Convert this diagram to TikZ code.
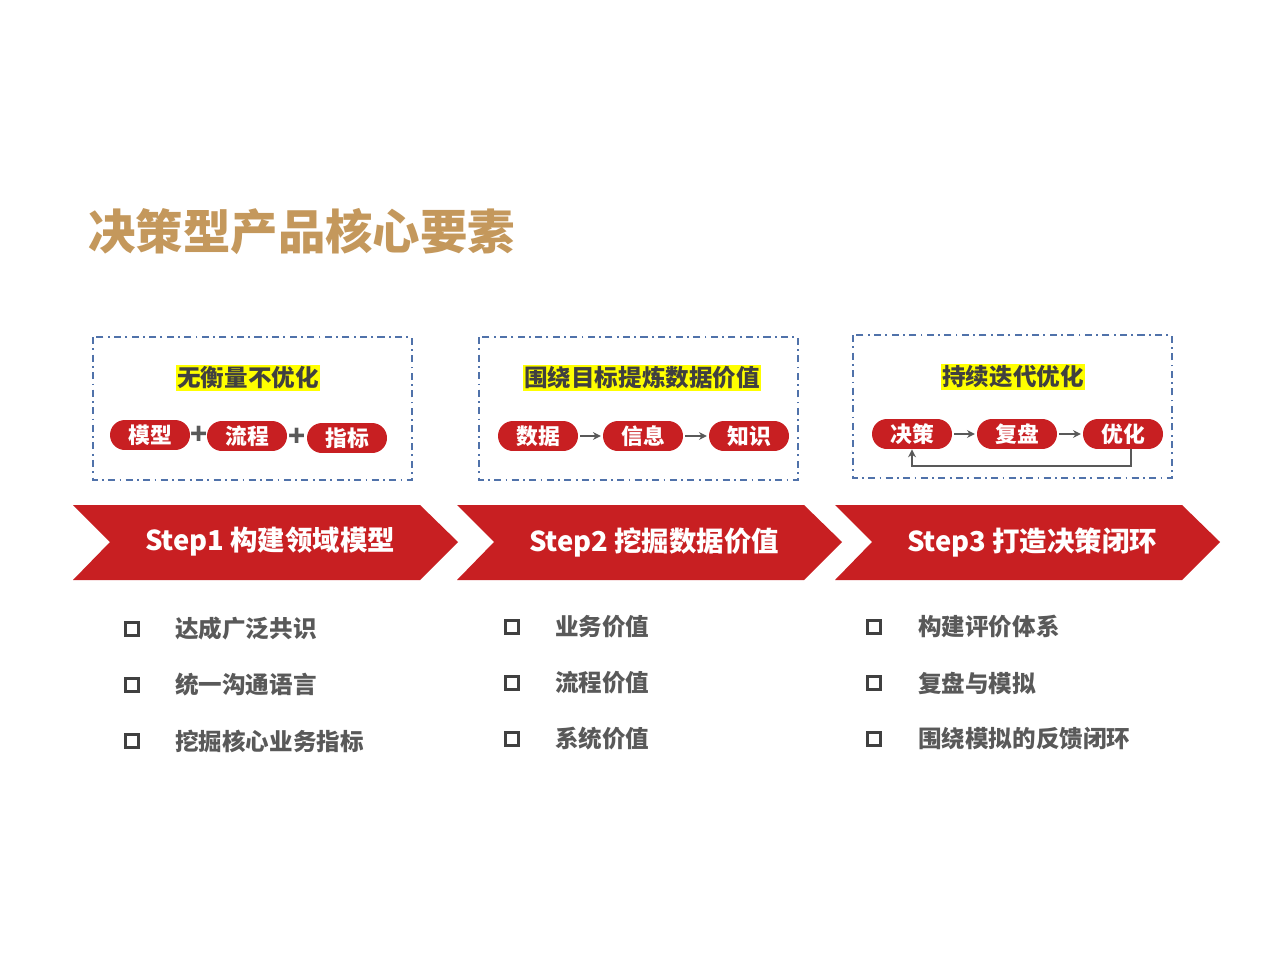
\documentclass[tikz,border=0pt]{standalone}
\usepackage{fontspec}
\setmainfont{Noto Sans CJK SC}
\usetikzlibrary{positioning,arrows.meta}
\definecolor{titlegold}{HTML}{C4985C}
\definecolor{stepred}{HTML}{C81F22}
\definecolor{frameblue}{HTML}{5072AA}
\definecolor{textgray}{HTML}{595959}
\definecolor{hiyellow}{HTML}{FFFF00}
\tikzset{
  pill/.style={fill=stepred, text=white, rounded corners=8.5pt, minimum width=1.6cm,
    minimum height=0.6cm, inner sep=0pt, font=\fontsize{12.4}{12}\selectfont\bfseries},
  hilite/.style={fill=hiyellow, text=black!75, inner sep=1pt, font=\fontsize{13.4}{14}\selectfont\bfseries},
  frame/.style={frameblue, line width=1pt, dash pattern=on 4pt off 2.5pt on 1pt off 2.5pt},
  steptext/.style={text=white, font=\fontsize{15.6}{16}\selectfont\bfseries},
  flowarrow/.style={textgray, line width=1pt, -{Stealth[length=4.5pt,width=4.5pt]}},
  plussign/.style={text=textgray, font=\fontsize{16}{16}\selectfont\bfseries, inner sep=0pt},
  tick/.style={draw=black!75, line width=1.5pt, minimum size=0.27cm, inner sep=0pt},
  itemtext/.style={text=textgray, anchor=west, inner sep=0pt, font=\fontsize{13.4}{14}\selectfont\bfseries}
}
\begin{document}
\begin{tikzpicture}[x=0.02cm,y=-0.02cm]
    \useasboundingbox[fill=white] (0,0) rectangle (1280,959);
    % title
    \node[anchor=west, inner sep=0pt, text=titlegold, font=\fontsize{27}{28}\selectfont\bfseries]
        (title) at (88,232) {决策型产品核心要素};
    % dashed frames
    \draw[frame] (93,337) rectangle (412,480);
    \draw[frame] (479,337) rectangle (798,480);
    \draw[frame] (853,335) rectangle (1172,478);
    % frame 1
    \node[hilite] (hl1) at (248,378) {无衡量不优化};
    \node[pill] (m1) at (150,435) {模型};
    \node[pill] (m2) at (247,436) {流程};
    \node[pill] (m3) at (347,438) {指标};
    \node[plussign] (plus1) at (199,435) {+};
    \node[plussign] (plus2) at (297,437) {+};
    % frame 2
    \node[hilite] (hl2) at (642,378) {围绕目标提炼数据价值};
    \node[pill] (d1) at (538,436) {数据};
    \node[pill] (d2) at (643,436) {信息};
    \node[pill] (d3) at (749,436) {知识};
    \draw[flowarrow] ([xshift=1pt]d1.east) -- ([xshift=-1pt]d2.west);
    \draw[flowarrow] ([xshift=1pt]d2.east) -- ([xshift=-1pt]d3.west);
    % frame 3
    \node[hilite] (hl3) at (1013,377) {持续迭代优化};
    \node[pill] (c1) at (912,434) {决策};
    \node[pill] (c2) at (1017,434) {复盘};
    \node[pill] (c3) at (1123,434) {优化};
    \draw[flowarrow] ([xshift=1pt]c1.east) -- ([xshift=-1pt]c2.west);
    \draw[flowarrow] ([xshift=1pt]c2.east) -- ([xshift=-1pt]c3.west);
    \draw[flowarrow, line width=1.3pt] ([xshift=4.5pt]c3.south) -- ++(0,17) -| (c1.south);
    % chevrons
    \foreach \lx/\lbl [count=\i] in {73/{Step1 构建领域模型},457/{Step2 挖掘数据价值},835/{Step3 打造决策闭环}} {
        \fill[stepred] (\lx,505) -- ++(347,0) -- ++(38,37) -- ++(-38,38) -- ++(-347,0) -- ++(37,-38) -- cycle;
        \node[steptext] (step\i) at (\lx+197,542) {\lbl};
    }
    % bullet lists
    \foreach \txt [count=\i] in {达成广泛共识,统一沟通语言,挖掘核心业务指标} {
        \node[tick] (ta\i) at (132,573+56*\i) {};
        \node[itemtext] (ia\i) at (175,573+56*\i) {\txt};
    }
    \foreach \txt [count=\i] in {业务价值,流程价值,系统价值} {
        \node[tick] (tb\i) at (512,571+56*\i) {};
        \node[itemtext] (ib\i) at (555,571+56*\i) {\txt};
    }
    \foreach \txt [count=\i] in {构建评价体系,复盘与模拟,围绕模拟的反馈闭环} {
        \node[tick] (tc\i) at (874,571+56*\i) {};
        \node[itemtext] (ic\i) at (918,571+56*\i) {\txt};
    }
\end{tikzpicture}
\end{document}
